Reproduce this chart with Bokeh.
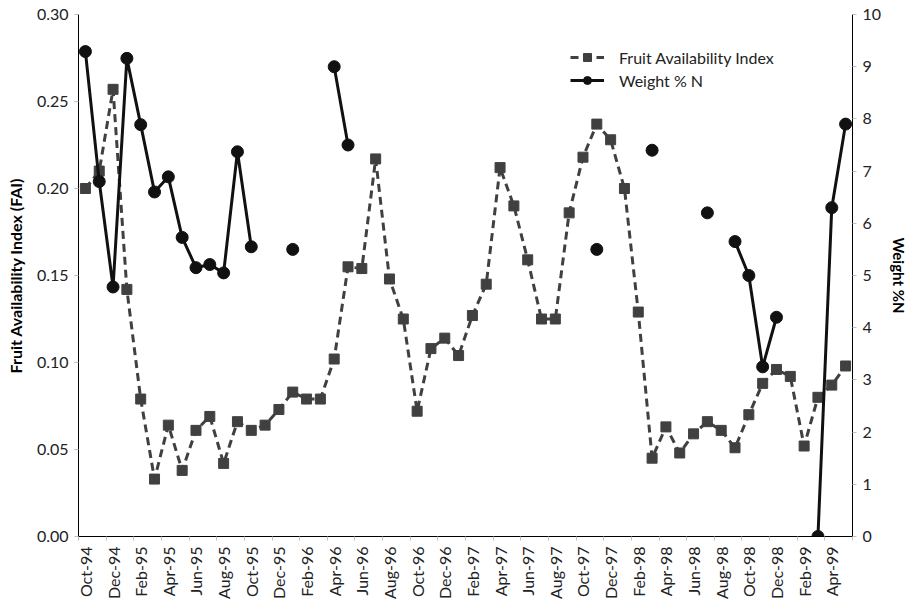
import numpy as np
from bokeh.plotting import figure
from bokeh.models import (Range1d, LinearAxis, FixedTicker, Legend, LegendItem,
                          ColumnDataSource, NumeralTickFormatter)
from bokeh.embed import file_html
from bokeh.resources import INLINE

months = ["Oct-94", "Nov-94", "Dec-94", "Jan-95", "Feb-95", "Mar-95", "Apr-95", "May-95",
          "Jun-95", "Jul-95", "Aug-95", "Sep-95", "Oct-95", "Nov-95", "Dec-95", "Jan-96",
          "Feb-96", "Mar-96", "Apr-96", "May-96", "Jun-96", "Jul-96", "Aug-96", "Sep-96",
          "Oct-96", "Nov-96", "Dec-96", "Jan-97", "Feb-97", "Mar-97", "Apr-97", "May-97",
          "Jun-97", "Jul-97", "Aug-97", "Sep-97", "Oct-97", "Nov-97", "Dec-97", "Jan-98",
          "Feb-98", "Mar-98", "Apr-98", "May-98", "Jun-98", "Jul-98", "Aug-98", "Sep-98",
          "Oct-98", "Nov-98", "Dec-98", "Jan-99", "Feb-99", "Mar-99", "Apr-99", "May-99"]

fai = [0.200, 0.210, 0.257, 0.142, 0.079, 0.033, 0.064, 0.038, 0.061, 0.069, 0.042, 0.066,
       0.061, 0.064, 0.073, 0.083, 0.079, 0.079, 0.102, 0.155, 0.154, 0.217, 0.148, 0.125,
       0.072, 0.108, 0.114, 0.104, 0.127, 0.145, 0.212, 0.190, 0.159, 0.125, 0.125, 0.186,
       0.218, 0.237, 0.228, 0.200, 0.129, 0.045, 0.063, 0.048, 0.059, 0.066, 0.061, 0.051,
       0.070, 0.088, 0.096, 0.092, 0.052, 0.080, 0.087, 0.098]

nan = float("nan")
weight_n = [9.29, 6.80, 4.78, 9.16, 7.89, 6.60, 6.89, 5.73, 5.15, 5.21, 5.05, 7.37,
            5.55, nan, nan, 5.50, nan, nan, 9.00, 7.50, nan, nan, nan, nan,
            nan, nan, nan, nan, nan, nan, nan, nan, nan, nan, nan, nan,
            nan, 5.50, nan, nan, nan, 7.40, nan, nan, nan, 6.20, nan, 5.65,
            5.00, 3.25, 4.20, nan, nan, 0.00, 6.30, 7.90]

left_ticks = [0.0, 0.05, 0.10, 0.15, 0.20, 0.25, 0.30]
right_ticks = [0, 1, 2, 3, 4, 5, 6, 7, 8, 9, 10]

FONT = "Lato"
x = list(range(len(months)))
src = ColumnDataSource(dict(x=x, fai=fai, w=weight_n))

p = figure(frame_width=774, frame_height=522, output_backend="svg", toolbar_location=None,
           x_range=Range1d(-0.5, len(months) - 0.5), y_range=Range1d(0, 0.30),
           min_border_left=78, min_border_right=42, min_border_top=14, min_border_bottom=57,
           background_fill_color="white", border_fill_color="white")
p.outline_line_color = None
p.grid.visible = False
p.extra_y_ranges = {"w": Range1d(0, 10)}

# x axis
xa = p.xaxis[0]
tick_idx = list(range(0, len(months), 2))
xa.ticker = FixedTicker(ticks=tick_idx, minor_ticks=[k - 0.5 for k in range(0, len(months) + 1, 2)])
xa.major_label_overrides = {i: months[i] for i in tick_idx}
xa.major_label_orientation = np.pi / 2
xa.major_tick_line_color = None
xa.major_tick_out = 0
xa.major_tick_in = 0
xa.minor_tick_line_color = "#bfbfbf"
xa.minor_tick_out = 4
xa.minor_tick_in = 0
xa.major_label_standoff = 6
xa.axis_line_color = "black"
xa.major_label_text_font = FONT
xa.major_label_text_font_size = "16px"
xa.major_label_text_color = "#222222"

# left axis
ya = p.yaxis[0]
ya.ticker = FixedTicker(ticks=left_ticks)
ya.formatter = NumeralTickFormatter(format="0.00")
ya.major_tick_line_color = "#bfbfbf"
ya.major_tick_out = 4
ya.major_tick_in = 0
ya.minor_tick_line_color = None
ya.axis_line_color = "black"
ya.major_label_text_font = FONT
ya.major_label_text_font_size = "16px"
ya.major_label_text_color = "#222222"
ya.major_label_standoff = 6
ya.axis_label = "Fruit Availability Index (FAI)"
ya.axis_label_text_font = FONT
ya.axis_label_text_font_style = "bold"
ya.axis_label_text_font_size = "16px"
ya.axis_label_text_color = "black"
ya.axis_label_standoff = 9

# right axis
ra = LinearAxis(y_range_name="w", ticker=FixedTicker(ticks=right_ticks))
ra.major_tick_line_color = "#bfbfbf"
ra.major_tick_out = 4
ra.major_tick_in = 0
ra.minor_tick_line_color = None
ra.axis_line_color = "black"
ra.major_label_text_font = FONT
ra.major_label_text_font_size = "16px"
ra.major_label_text_color = "#222222"
ra.major_label_standoff = 6
ra.axis_label = "Weight %N"
ra.axis_label_text_font = FONT
ra.axis_label_text_font_style = "bold"
ra.axis_label_text_font_size = "15px"
ra.axis_label_text_color = "black"
ra.axis_label_standoff = 6
p.add_layout(ra, "right")

# FAI series
l1 = p.line("x", "fai", source=src, line_color="#404040", line_width=3, line_dash="8 5")
s1 = p.scatter("x", "fai", source=src, marker="square", size=10, fill_color="#404040",
               line_color="#404040")

# Weight series
l2 = p.line("x", "w", source=src, y_range_name="w", line_color="#111111", line_width=3)
s2 = p.scatter("x", "w", source=src, y_range_name="w", marker="circle", size=12,
               fill_color="#111111", line_color="#111111")

legend = Legend(items=[LegendItem(label="Fruit Availability Index", renderers=[l1, s1]),
                       LegendItem(label="Weight % N", renderers=[l2, s2])],
                location=(492, 446), border_line_color=None, background_fill_alpha=0,
                glyph_width=34, glyph_height=20, label_height=20, spacing=3,
                padding=0, margin=0, label_standoff=15,
                label_text_font=FONT, label_text_font_size="16px",
                label_text_color="#222222")
p.add_layout(legend)

open("out.html", "w").write(file_html(p, INLINE))
